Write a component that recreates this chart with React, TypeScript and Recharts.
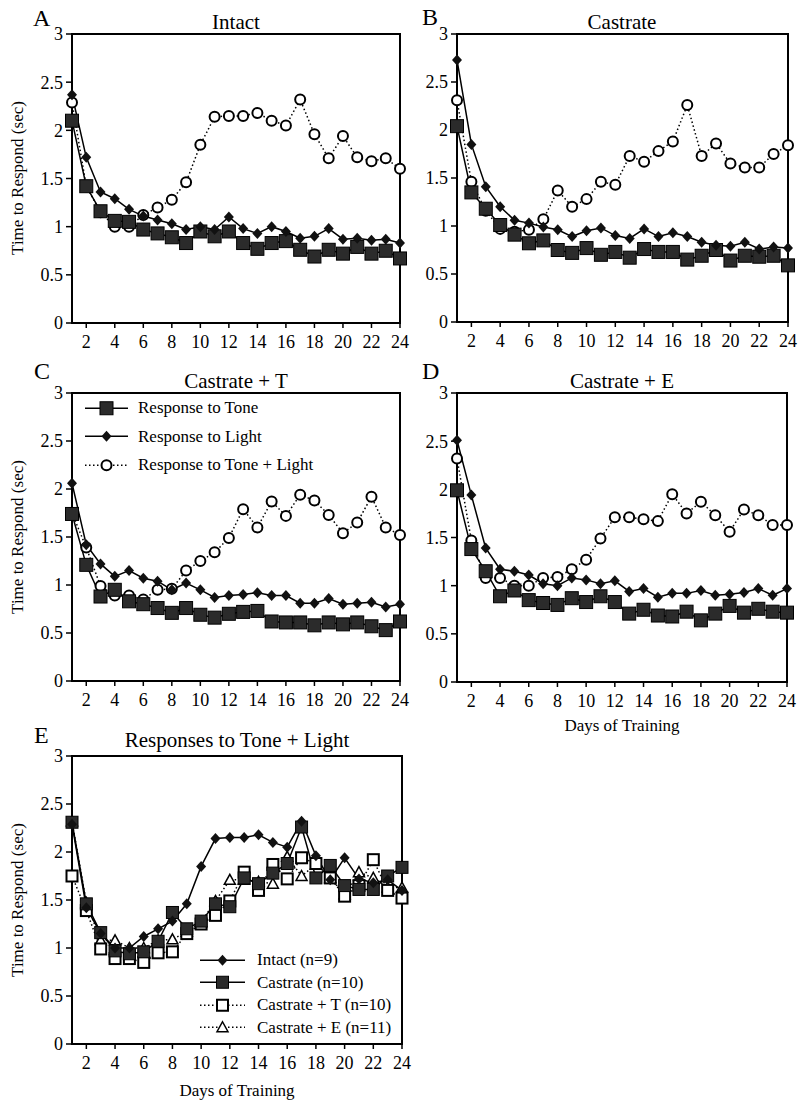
import React from "react"
import { LineChart, Line, XAxis, YAxis, ReferenceArea, Legend } from "recharts"

const FONT = '"Liberation Serif", "Times New Roman", serif'

// days of training (x categories) and axis ticks
const days = [1, 2, 3, 4, 5, 6, 7, 8, 9, 10, 11, 12, 13, 14, 15, 16, 17, 18, 19, 20, 21, 22, 23, 24]
const dayTicks = [2, 4, 6, 8, 10, 12, 14, 16, 18, 20, 22, 24]
const timeTicks = [0, 0.5, 1, 1.5, 2, 2.5, 3]

// A - Intact
const intactTone = [2.1, 1.42, 1.16, 1.06, 1.05, 0.97, 0.93, 0.89, 0.83, 0.95, 0.9, 0.95, 0.83, 0.77, 0.83, 0.85, 0.76, 0.69, 0.76, 0.72, 0.79, 0.72, 0.75, 0.67]
const intactLight = [2.37, 1.72, 1.36, 1.29, 1.18, 1.11, 1.07, 1.03, 0.97, 1.0, 0.97, 1.1, 0.98, 0.93, 1.0, 0.95, 0.88, 0.9, 0.98, 0.87, 0.88, 0.86, 0.87, 0.83]
const intactBoth = [2.29, 1.42, 1.15, 1.0, 1.0, 1.12, 1.2, 1.28, 1.46, 1.85, 2.14, 2.15, 2.15, 2.18, 2.1, 2.05, 2.32, 1.96, 1.71, 1.94, 1.72, 1.68, 1.71, 1.6]

// B - Castrate
const castTone = [2.04, 1.35, 1.18, 1.01, 0.91, 0.82, 0.85, 0.75, 0.72, 0.77, 0.7, 0.73, 0.67, 0.76, 0.73, 0.73, 0.65, 0.69, 0.75, 0.64, 0.69, 0.68, 0.69, 0.59]
const castLight = [2.73, 1.85, 1.41, 1.2, 1.06, 1.03, 0.99, 0.96, 0.89, 0.95, 0.98, 0.9, 0.87, 0.97, 0.89, 0.93, 0.89, 0.83, 0.8, 0.79, 0.83, 0.76, 0.78, 0.77]
const castBoth = [2.31, 1.46, 1.16, 0.97, 0.94, 0.96, 1.07, 1.37, 1.2, 1.28, 1.46, 1.43, 1.73, 1.67, 1.78, 1.88, 2.26, 1.73, 1.86, 1.65, 1.61, 1.61, 1.75, 1.84]

// C - Castrate + T
const castTTone = [1.74, 1.21, 0.88, 0.95, 0.83, 0.8, 0.76, 0.71, 0.76, 0.69, 0.66, 0.7, 0.72, 0.73, 0.62, 0.61, 0.61, 0.58, 0.61, 0.59, 0.61, 0.57, 0.53, 0.62]
const castTLight = [2.06, 1.42, 1.22, 1.09, 1.15, 1.07, 1.04, 0.95, 1.02, 0.95, 0.87, 0.89, 0.9, 0.92, 0.89, 0.89, 0.81, 0.81, 0.86, 0.8, 0.81, 0.82, 0.77, 0.8]
const castTBoth = [1.75, 1.39, 0.99, 0.89, 0.89, 0.85, 0.95, 0.96, 1.15, 1.25, 1.34, 1.49, 1.79, 1.6, 1.87, 1.72, 1.94, 1.88, 1.73, 1.54, 1.65, 1.92, 1.6, 1.52]

// D - Castrate + E
const castETone = [1.99, 1.38, 1.15, 0.89, 0.95, 0.85, 0.82, 0.8, 0.87, 0.83, 0.89, 0.83, 0.71, 0.75, 0.69, 0.68, 0.73, 0.64, 0.71, 0.79, 0.72, 0.76, 0.73, 0.72]
const castELight = [2.51, 1.94, 1.39, 1.17, 1.15, 1.11, 1.02, 1.0, 1.08, 1.06, 1.02, 1.05, 0.94, 0.97, 0.88, 0.92, 0.92, 0.95, 0.9, 0.91, 0.93, 0.97, 0.9, 0.97]
const castEBoth = [2.32, 1.47, 1.08, 1.08, 1.0, 1.0, 1.08, 1.09, 1.17, 1.27, 1.49, 1.71, 1.71, 1.69, 1.67, 1.95, 1.75, 1.87, 1.73, 1.56, 1.79, 1.73, 1.63, 1.63]

type Series = { key: string; name: string; kind: string; dotted?: boolean }

const responseSeries: Series[] = [
  { key: "both", name: "Response to Tone + Light", kind: "ocircle", dotted: true },
  { key: "tone", name: "Response to Tone", kind: "fsquare" },
  { key: "light", name: "Response to Light", kind: "diamond" },
]
const responseLegend = [responseSeries[1], responseSeries[2], responseSeries[0]]

const groupSeries: Series[] = [
  { key: "castE", name: "Castrate + E (n=11)", kind: "otriangle", dotted: true },
  { key: "castT", name: "Castrate + T (n=10)", kind: "osquare", dotted: true },
  { key: "castrate", name: "Castrate (n=10)", kind: "esquare" },
  { key: "intact", name: "Intact (n=9)", kind: "diamond" },
]
const groupLegend = [groupSeries[3], groupSeries[2], groupSeries[1], groupSeries[0]]

function responseRows(tone: number[], light: number[], both: number[]) {
  return days.map((day, i) => ({ day, tone: tone[i], light: light[i], both: both[i] }))
}

const rowsA = responseRows(intactTone, intactLight, intactBoth)
const rowsB = responseRows(castTone, castLight, castBoth)
const rowsC = responseRows(castTTone, castTLight, castTBoth)
const rowsD = responseRows(castETone, castELight, castEBoth)
const rowsE = days.map((day, i) => ({
  day,
  intact: intactBoth[i],
  castrate: castBoth[i],
  castT: castTBoth[i],
  castE: castEBoth[i],
}))

function Marker({ kind, cx, cy }: { kind: string; cx: number; cy: number }) {
  switch (kind) {
    case "fsquare":
      return <rect x={cx - 6.5} y={cy - 6.5} width={13} height={13} fill="#2b2b2b" stroke="#000" strokeWidth={1} />
    case "esquare":
      return <rect x={cx - 6} y={cy - 6} width={12} height={12} fill="#2b2b2b" stroke="#000" strokeWidth={1} />
    case "diamond":
      return <polygon points={`${cx},${cy - 5.5} ${cx + 5},${cy} ${cx},${cy + 5.5} ${cx - 5},${cy}`} fill="#111" />
    case "ocircle":
      return <circle cx={cx} cy={cy} r={5} fill="#fff" stroke="#000" strokeWidth={2} />
    case "osquare":
      return <rect x={cx - 5.5} y={cy - 5.5} width={11} height={11} fill="#fff" stroke="#000" strokeWidth={2} />
    case "otriangle":
      return (
        <polygon
          points={`${cx},${cy - 5.5} ${cx + 5.5},${cy + 4.5} ${cx - 5.5},${cy + 4.5}`}
          fill="#fff"
          stroke="#000"
          strokeWidth={1.5}
        />
      )
    default:
      return null
  }
}

function LegendList({ items, rowH, sampleW, gap }: { items: Series[]; rowH: number; sampleW: number; gap: number }) {
  return (
    <div style={{ fontFamily: FONT, fontSize: 17, color: "#000" }}>
      {items.map((it) => (
        <div key={it.key} style={{ display: "flex", alignItems: "center", height: rowH }}>
          <svg width={sampleW} height={rowH} style={{ overflow: "visible" }}>
            <line
              x1={0}
              x2={sampleW}
              y1={rowH / 2}
              y2={rowH / 2}
              stroke="#000"
              strokeWidth={1.5}
              strokeDasharray={it.dotted ? "1.5 2.5" : undefined}
            />
            <Marker kind={it.kind} cx={sampleW / 2} cy={rowH / 2} />
          </svg>
          <span style={{ marginLeft: gap, whiteSpace: "nowrap" }}>{it.name}</span>
        </div>
      ))}
    </div>
  )
}

const PAD_L = 72
const PAD_T = 10
const PAD_R = 14
const PAD_B = 60

type Box = { x0: number; y0: number; x1: number; y1: number }
type LegendPos = { left: number; top: number; rowH: number; sampleW: number; gap: number; items: Series[] }

function Panel({ box, rows, series, legend }: { box: Box; rows: any[]; series: Series[]; legend?: LegendPos }) {
  const width = box.x1 - box.x0 + PAD_L + PAD_R
  const height = box.y1 - box.y0 + PAD_T + PAD_B
  const tickStyle = { fill: "#000", fontSize: 18, fontFamily: FONT }
  return (
    <div style={{ position: "absolute", left: box.x0 - PAD_L, top: box.y0 - PAD_T, fontFamily: FONT }}>
      <LineChart
        width={width}
        height={height}
        data={rows}
        margin={{ top: PAD_T, right: PAD_R, left: 0, bottom: 0 }}
        style={{ fontFamily: FONT }}
      >
        <XAxis
          dataKey="day"
          type="number"
          domain={[1, 24]}
          ticks={dayTicks}
          interval={0}
          height={PAD_B}
          tickSize={5}
          tickMargin={7}
          axisLine={{ stroke: "#000", strokeWidth: 2 }}
          tickLine={{ stroke: "#000", strokeWidth: 1.5 }}
          tick={tickStyle}
        />
        <YAxis
          type="number"
          domain={[0, 3]}
          ticks={timeTicks}
          interval={0}
          width={PAD_L}
          tickSize={6}
          tickMargin={3}
          axisLine={{ stroke: "#000", strokeWidth: 2 }}
          tickLine={{ stroke: "#000", strokeWidth: 1.5 }}
          tick={tickStyle}
        />
        <ReferenceArea x1={1} x2={24} y1={0} y2={3} fill="none" stroke="#000" strokeWidth={2} />
        {series.map((s) => (
          <Line
            key={s.key}
            type="linear"
            dataKey={s.key}
            name={s.name}
            stroke="#000"
            strokeWidth={1.5}
            strokeDasharray={s.dotted ? "1.5 2.5" : undefined}
            dot={(p: any) => <Marker key={`${s.key}-${p.index}`} kind={s.kind} cx={p.cx} cy={p.cy} />}
            activeDot={false}
            isAnimationActive={false}
          />
        ))}
        {legend && (
          <Legend
            layout="vertical"
            verticalAlign="middle"
            align="center"
            wrapperStyle={{ left: legend.left, top: legend.top, width: "auto" }}
            content={() => (
              <LegendList items={legend.items} rowH={legend.rowH} sampleW={legend.sampleW} gap={legend.gap} />
            )}
          />
        )}
      </LineChart>
    </div>
  )
}

const boxA = { x0: 72, y0: 34, x1: 400, y1: 323 }
const boxB = { x0: 457, y0: 34, x1: 788, y1: 322 }
const boxC = { x0: 72, y0: 393, x1: 400, y1: 681 }
const boxD = { x0: 457, y0: 393, x1: 787, y1: 682 }
const boxE = { x0: 72, y0: 756, x1: 402, y1: 1044 }

function Texts() {
  const base = { fontFamily: FONT, fill: "#000" }
  const letter = { ...base, fontSize: 24 }
  const title = { ...base, fontSize: 21, textAnchor: "middle" as const }
  const axisLabel = { ...base, fontSize: 17, textAnchor: "middle" as const, dominantBaseline: "central" as const }
  return (
    <svg width={800} height={1106} style={{ position: "absolute", left: 0, top: 0, pointerEvents: "none" }}>
      <text x={33} y={26} {...letter}>A</text>
      <text x={422} y={25} {...letter}>B</text>
      <text x={34} y={379} {...letter}>C</text>
      <text x={422} y={379} {...letter}>D</text>
      <text x={34} y={743} {...letter}>E</text>
      <text x={236} y={29} {...title}>Intact</text>
      <text x={622} y={29} {...title}>Castrate</text>
      <text x={236} y={388} {...title}>Castrate + T</text>
      <text x={622} y={388} {...title}>Castrate + E</text>
      <text x={237} y={747} {...title}>Responses to Tone + Light</text>
      <text x={17} y={178} transform="rotate(-90 17 178)" {...axisLabel}>Time to Respond (sec)</text>
      <text x={17} y={537} transform="rotate(-90 17 537)" {...axisLabel}>Time to Respond (sec)</text>
      <text x={17} y={900} transform="rotate(-90 17 900)" {...axisLabel}>Time to Respond (sec)</text>
      <text x={622} y={725} {...axisLabel}>Days of Training</text>
      <text x={237} y={1090} {...axisLabel}>Days of Training</text>
    </svg>
  )
}

export default function App() {
  return (
    <div style={{ position: "absolute", left: 0, top: 0, width: 800, height: 1106, background: "#fff" }}>
      <Panel box={boxA} rows={rowsA} series={responseSeries} />
      <Panel box={boxB} rows={rowsB} series={responseSeries} />
      <Panel
        box={boxC}
        rows={rowsC}
        series={responseSeries}
        legend={{ left: 85, top: 10.75, rowH: 28.5, sampleW: 43, gap: 10, items: responseLegend }}
      />
      <Panel box={boxD} rows={rowsD} series={responseSeries} />
      <Panel
        box={boxE}
        rows={rowsE}
        series={groupSeries}
        legend={{ left: 200, top: 202.75, rowH: 22.5, sampleW: 45, gap: 12, items: groupLegend }}
      />
      <Texts />
    </div>
  )
}
